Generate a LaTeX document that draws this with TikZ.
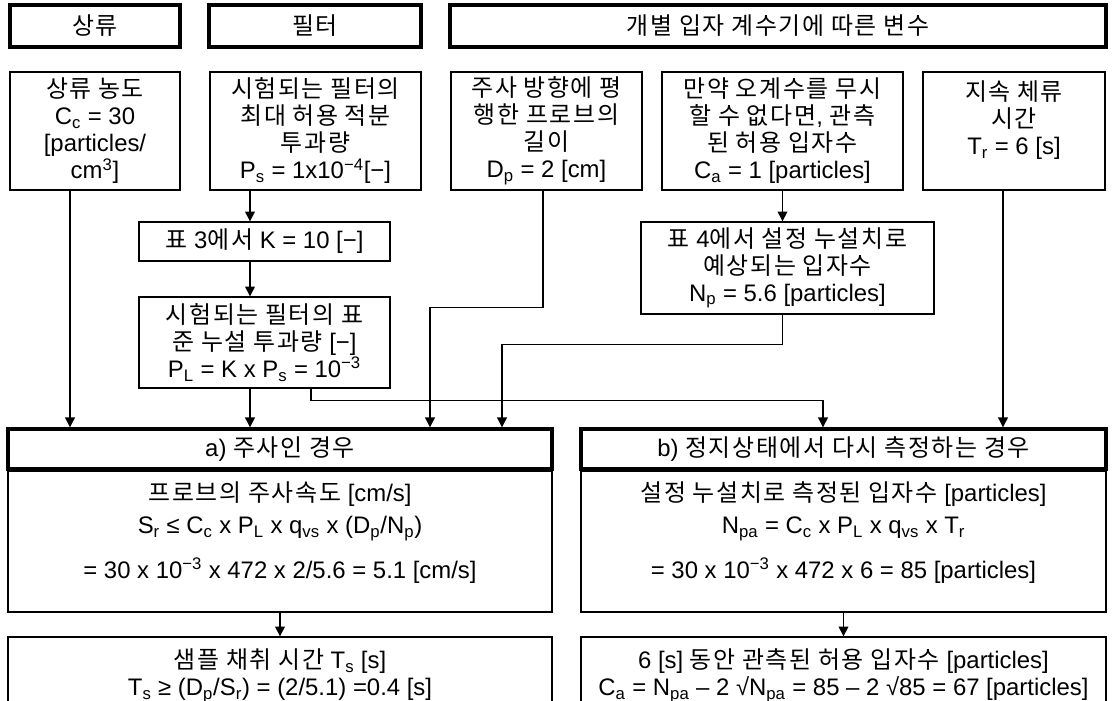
\documentclass[tikz,border=0pt]{standalone}
\usepackage{fontspec}
\setmainfont{Liberation Sans}
\newfontfamily\krfont{Noto Sans CJK KR}[LetterSpace=7]
% Hangul syllables switch to the Korean face
\XeTeXinterchartokenstate=1
\newXeTeXintercharclass\hangulclass
\makeatletter
\count@="AC00
\loop
  \XeTeXcharclass\count@=\hangulclass
  \advance\count@ by 1
\ifnum\count@<"D7A4 \repeat
\makeatother
\XeTeXinterchartoks 0 \hangulclass = {\krfont}
\XeTeXinterchartoks 4095 \hangulclass = {\krfont}
\XeTeXinterchartoks \hangulclass 0 = {\normalfont}
\XeTeXinterchartoks \hangulclass 4095 = {\normalfont}
\usetikzlibrary{arrows.meta,calc,positioning}

\begin{document}
\begin{tikzpicture}[x=0.025cm, y=-0.025cm,
    font=\fontsize{17pt}{19.2pt}\selectfont,
    headbox/.style={draw, line width=2.4pt, align=center, inner sep=0pt},
    infobox/.style={draw, line width=0.9pt, align=center, inner sep=0pt},
    arr/.style={line width=0.8pt, -{Triangle[length=7pt,width=7pt]}},
    ]
    \useasboundingbox (0,0) rectangle (1118,701);
    \clip (0,0) rectangle (1118,701);

    % group headers
    \node[headbox, minimum width=4.25cm, minimum height=1.05cm] (hup) at (95,26) {상류};
    \node[headbox, minimum width=5.3cm, minimum height=1.05cm] (hfilt) at (315,26) {필터};
    \node[headbox, minimum width=16.4cm, minimum height=1.05cm] (hcnt) at (778,26) {개별 입자 계수기에 따른 변수};

    % input values
    \node[infobox, minimum width=4.25cm, minimum height=2.95cm] (conc) at (95,131) {상류 농도\\C\textsubscript{c} = 30\\{}[particles/\\cm\textsuperscript{3}]};
    \node[infobox, minimum width=5.275cm, minimum height=2.95cm] (filt) at (315.5,131) {시험되는 필터의\\최대 허용 적분\\투과량\\P\textsubscript{s} = 1x10\textsuperscript{−4}[−]};
    \node[infobox, minimum width=4.775cm, minimum height=2.95cm] (len) at (546.5,131) {주사 방향에 평\\행한 프로브의\\길이\\D\textsubscript{p} = 2 [cm]};
    \node[infobox, minimum width=6.025cm, minimum height=2.95cm] (cnt) at (782.5,131) {만약 오계수를 무시\\할 수 없다면, 관측\\된 허용 입자수\\C\textsubscript{a} = 1 [particles]};
    \node[infobox, minimum width=4.55cm, minimum height=2.95cm] (res) at (1014,131) {지속 체류\\시간\\T\textsubscript{r} = 6 [s]\\\mbox{}};

    % derived values
    \node[infobox, minimum width=6.275cm, minimum height=0.975cm] (kval) at (264.5,241.5) {표 3에서 K = 10 [−]};
    \node[infobox, minimum width=6.275cm, minimum height=2.275cm] (leak) at (264.5,342.5) {시험되는 필터의 표\\준 누설 투과량 [−]\\P\textsubscript{L} = K x P\textsubscript{s} = 10\textsuperscript{−3}};
    \node[infobox, minimum width=7.325cm, minimum height=2.3cm] (expn) at (787.5,268) {표 4에서 설정 누설치로\\예상되는 입자수\\N\textsubscript{p} = 5.6 [particles]};

    % case a
    \node[headbox, minimum width=13.6cm, minimum height=1.0cm] (scanh) at (280,449) {a) 주사인 경우};
    \node[infobox, minimum width=13.6cm, minimum height=3.525cm] (scanb) at (280,541.5) {프로브의 주사속도 [cm/s]\\[3.5pt]S\textsubscript{r} ≤ C\textsubscript{c} x P\textsubscript{L} x q\textsubscript{vs} x (D\textsubscript{p}/N\textsubscript{p})\\[11pt]= 30 x 10\textsuperscript{−3} x 472 x 2/5.6 = 5.1 [cm/s]\\[-2.8pt]\mbox{}};
    \node[infobox, minimum width=13.6cm, minimum height=1.95cm] (scant) at (280,676) {샘플 채취 시간 T\textsubscript{s} [s]\\T\textsubscript{s} ≥ (D\textsubscript{p}/S\textsubscript{r}) = (2/5.1) =0.4 [s]};

    % case b
    \node[headbox, minimum width=13.125cm, minimum height=1.0cm] (statich) at (843.5,449) {b) 정지상태에서 다시 측정하는 경우};
    \node[infobox, minimum width=13.125cm, minimum height=3.525cm] (staticb) at (843.5,541.5) {설정 누설치로 측정된 입자수 [particles]\\[3.5pt]N\textsubscript{pa} = C\textsubscript{c} x P\textsubscript{L} x q\textsubscript{vs} x T\textsubscript{r}\\[11pt]= 30 x 10\textsuperscript{−3} x 472 x 6 = 85 [particles]\\[-2.8pt]\mbox{}};
    \node[infobox, minimum width=13.125cm, minimum height=1.95cm] (statict) at (843.5,676) {6 [s] 동안 관측된 허용 입자수 [particles]\\C\textsubscript{a} = N\textsubscript{pa} – 2 √N\textsubscript{pa} = 85 – 2 √85 = 67 [particles]};

    % connectors
    \coordinate (concout) at ($(conc.south)+(-25,0)$);
    \coordinate (filtout) at ($(filt.south)+(-65.5,0)$);
    \coordinate (leakout) at ($(leak.south)+(46.5,0)$);
    \coordinate (lenout) at ($(len.south)+(-3.5,0)$);
    \coordinate (resout) at ($(res.south)+(-11,0)$);
    \coordinate (scanin) at ($(scanh.north)+(150,0)$);
    \coordinate (expnin) at ($(scanh.north)+(222,0)$);
    \coordinate (staticin) at ($(statich.north)+(-20.5,0)$);

    \draw[arr] (concout) -- (concout |- scanh.north);
    \draw[arr] (filtout) -- (filtout |- kval.north);
    \draw[arr] (filtout |- kval.south) -- (filtout |- leak.north);
    \draw[arr] (filtout |- leak.south) -- (filtout |- scanh.north);
    \draw[arr] (leakout) -- ++(0,12) -| (staticin);
    \draw[arr] (lenout) -- ++(0,117) -| (scanin);
    \draw[arr] (cnt.south) -- (cnt.south |- expn.north);
    \draw[arr] (cnt.south |- expn.south) -- ++(0,30) -| (expnin);
    \draw[arr] (resout) -- (resout |- statich.north);
    \draw[arr] (scanb.south) -- (scant.north);
    \draw[arr] (staticb.south) -- (statict.north);
\end{tikzpicture}
\end{document}
